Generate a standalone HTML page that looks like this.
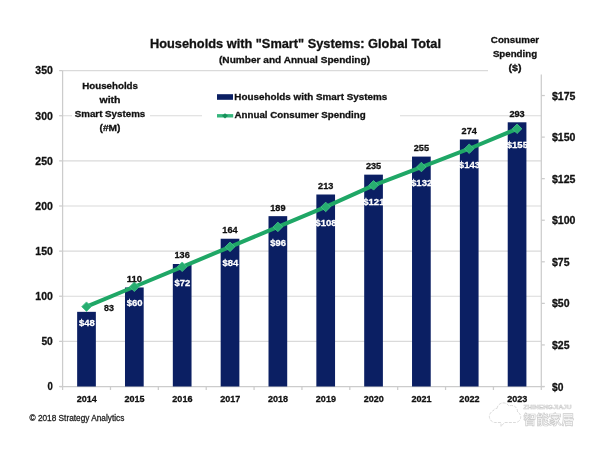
<!DOCTYPE html>
<html><head><meta charset="utf-8"><title>Households with Smart Systems</title>
<style>html,body{margin:0;padding:0;background:#fff}svg{display:block}</style></head>
<body>
<svg width="600" height="451" viewBox="0 0 600 451" font-family="&quot;Liberation Sans&quot;, sans-serif" font-weight="bold" fill="#111">
<rect width="600" height="451" fill="#fff" stroke="none"/>
<line x1="62.6" x2="541.3" y1="341.37" y2="341.37" stroke="#dadada" stroke-width="1.2"/>
<line x1="62.6" x2="541.3" y1="296.24" y2="296.24" stroke="#dadada" stroke-width="1.2"/>
<line x1="62.6" x2="541.3" y1="251.11" y2="251.11" stroke="#dadada" stroke-width="1.2"/>
<line x1="62.6" x2="541.3" y1="205.99" y2="205.99" stroke="#dadada" stroke-width="1.2"/>
<line x1="62.6" x2="541.3" y1="160.86" y2="160.86" stroke="#dadada" stroke-width="1.2"/>
<line x1="62.6" x2="541.3" y1="115.73" y2="115.73" stroke="#dadada" stroke-width="1.2"/>
<line x1="62.6" x2="541.3" y1="70.60" y2="70.60" stroke="#dadada" stroke-width="1.2"/>
<rect x="72" y="78" width="78" height="62" fill="#fff"/>
<rect x="202" y="84" width="198" height="42" fill="#fff"/>
<rect x="488" y="28" width="58" height="46.5" fill="#fff"/>
<line x1="62.6" x2="62.6" y1="70.6" y2="386.5" stroke="#cccccc" stroke-width="1.25"/>
<line x1="541.3" x2="541.3" y1="74.5" y2="386.5" stroke="#cccccc" stroke-width="1.25"/>
<line x1="59.6" x2="544.3" y1="386.5" y2="386.5" stroke="#cccccc" stroke-width="1.25"/>
<line x1="59.1" x2="62.6" y1="386.50" y2="386.50" stroke="#cccccc" stroke-width="1.25"/>
<line x1="59.1" x2="62.6" y1="341.37" y2="341.37" stroke="#cccccc" stroke-width="1.25"/>
<line x1="59.1" x2="62.6" y1="296.24" y2="296.24" stroke="#cccccc" stroke-width="1.25"/>
<line x1="59.1" x2="62.6" y1="251.11" y2="251.11" stroke="#cccccc" stroke-width="1.25"/>
<line x1="59.1" x2="62.6" y1="205.99" y2="205.99" stroke="#cccccc" stroke-width="1.25"/>
<line x1="59.1" x2="62.6" y1="160.86" y2="160.86" stroke="#cccccc" stroke-width="1.25"/>
<line x1="59.1" x2="62.6" y1="115.73" y2="115.73" stroke="#cccccc" stroke-width="1.25"/>
<line x1="59.1" x2="62.6" y1="70.60" y2="70.60" stroke="#cccccc" stroke-width="1.25"/>
<line x1="541.3" x2="544.8" y1="386.50" y2="386.50" stroke="#cccccc" stroke-width="1.25"/>
<line x1="541.3" x2="544.8" y1="344.93" y2="344.93" stroke="#cccccc" stroke-width="1.25"/>
<line x1="541.3" x2="544.8" y1="303.37" y2="303.37" stroke="#cccccc" stroke-width="1.25"/>
<line x1="541.3" x2="544.8" y1="261.80" y2="261.80" stroke="#cccccc" stroke-width="1.25"/>
<line x1="541.3" x2="544.8" y1="220.24" y2="220.24" stroke="#cccccc" stroke-width="1.25"/>
<line x1="541.3" x2="544.8" y1="178.67" y2="178.67" stroke="#cccccc" stroke-width="1.25"/>
<line x1="541.3" x2="544.8" y1="137.11" y2="137.11" stroke="#cccccc" stroke-width="1.25"/>
<line x1="541.3" x2="544.8" y1="95.54" y2="95.54" stroke="#cccccc" stroke-width="1.25"/>
<line x1="62.60" x2="62.60" y1="386.5" y2="390.0" stroke="#cccccc" stroke-width="1.25"/>
<line x1="110.47" x2="110.47" y1="386.5" y2="390.0" stroke="#cccccc" stroke-width="1.25"/>
<line x1="158.34" x2="158.34" y1="386.5" y2="390.0" stroke="#cccccc" stroke-width="1.25"/>
<line x1="206.21" x2="206.21" y1="386.5" y2="390.0" stroke="#cccccc" stroke-width="1.25"/>
<line x1="254.08" x2="254.08" y1="386.5" y2="390.0" stroke="#cccccc" stroke-width="1.25"/>
<line x1="301.95" x2="301.95" y1="386.5" y2="390.0" stroke="#cccccc" stroke-width="1.25"/>
<line x1="349.82" x2="349.82" y1="386.5" y2="390.0" stroke="#cccccc" stroke-width="1.25"/>
<line x1="397.69" x2="397.69" y1="386.5" y2="390.0" stroke="#cccccc" stroke-width="1.25"/>
<line x1="445.56" x2="445.56" y1="386.5" y2="390.0" stroke="#cccccc" stroke-width="1.25"/>
<line x1="493.43" x2="493.43" y1="386.5" y2="390.0" stroke="#cccccc" stroke-width="1.25"/>
<line x1="541.30" x2="541.30" y1="386.5" y2="390.0" stroke="#cccccc" stroke-width="1.25"/>
<rect x="77.15" y="311.84" width="18.7" height="74.66" fill="#0b1f63"/>
<rect x="124.99" y="287.47" width="18.7" height="99.03" fill="#0b1f63"/>
<rect x="172.83" y="264.00" width="18.7" height="122.50" fill="#0b1f63"/>
<rect x="220.67" y="238.73" width="18.7" height="147.77" fill="#0b1f63"/>
<rect x="268.51" y="216.16" width="18.7" height="170.34" fill="#0b1f63"/>
<rect x="316.35" y="194.50" width="18.7" height="192.00" fill="#0b1f63"/>
<rect x="364.19" y="174.65" width="18.7" height="211.85" fill="#0b1f63"/>
<rect x="412.03" y="156.59" width="18.7" height="229.91" fill="#0b1f63"/>
<rect x="459.87" y="139.45" width="18.7" height="247.05" fill="#0b1f63"/>
<rect x="507.71" y="122.30" width="18.7" height="264.20" fill="#0b1f63"/>
<polyline fill="none" stroke="#1fa766" stroke-width="4" stroke-linejoin="round" points="86.50,306.69 134.34,286.74 182.18,266.79 230.02,246.84 277.86,226.89 325.70,206.94 373.54,185.32 421.38,167.03 469.22,148.74 517.06,128.79"/>
<path d="M81.70 306.69 L86.50 301.89 L91.30 306.69 L86.50 311.49Z" fill="#27ad70" stroke="#45c48c" stroke-width="0.8"/>
<path d="M129.54 286.74 L134.34 281.94 L139.14 286.74 L134.34 291.54Z" fill="#27ad70" stroke="#45c48c" stroke-width="0.8"/>
<path d="M177.38 266.79 L182.18 261.99 L186.98 266.79 L182.18 271.59Z" fill="#27ad70" stroke="#45c48c" stroke-width="0.8"/>
<path d="M225.22 246.84 L230.02 242.04 L234.82 246.84 L230.02 251.64Z" fill="#27ad70" stroke="#45c48c" stroke-width="0.8"/>
<path d="M273.06 226.89 L277.86 222.09 L282.66 226.89 L277.86 231.69Z" fill="#27ad70" stroke="#45c48c" stroke-width="0.8"/>
<path d="M320.90 206.94 L325.70 202.14 L330.50 206.94 L325.70 211.74Z" fill="#27ad70" stroke="#45c48c" stroke-width="0.8"/>
<path d="M368.74 185.32 L373.54 180.52 L378.34 185.32 L373.54 190.12Z" fill="#27ad70" stroke="#45c48c" stroke-width="0.8"/>
<path d="M416.58 167.03 L421.38 162.23 L426.18 167.03 L421.38 171.83Z" fill="#27ad70" stroke="#45c48c" stroke-width="0.8"/>
<path d="M464.42 148.74 L469.22 143.94 L474.02 148.74 L469.22 153.54Z" fill="#27ad70" stroke="#45c48c" stroke-width="0.8"/>
<path d="M512.26 128.79 L517.06 123.99 L521.86 128.79 L517.06 133.59Z" fill="#27ad70" stroke="#45c48c" stroke-width="0.8"/>
<text x="109.00" y="311.00" font-size="9.6" text-anchor="middle" textLength="9.9" lengthAdjust="spacingAndGlyphs" stroke="#111" stroke-width="0.3">83</text>
<text x="134.34" y="281.82" font-size="9.6" text-anchor="middle" textLength="15.3" lengthAdjust="spacingAndGlyphs" stroke="#111" stroke-width="0.3">110</text>
<text x="182.18" y="258.35" font-size="9.6" text-anchor="middle" textLength="15.3" lengthAdjust="spacingAndGlyphs" stroke="#111" stroke-width="0.3">136</text>
<text x="230.02" y="233.08" font-size="9.6" text-anchor="middle" textLength="15.3" lengthAdjust="spacingAndGlyphs" stroke="#111" stroke-width="0.3">164</text>
<text x="277.86" y="210.51" font-size="9.6" text-anchor="middle" textLength="15.3" lengthAdjust="spacingAndGlyphs" stroke="#111" stroke-width="0.3">189</text>
<text x="325.70" y="188.85" font-size="9.6" text-anchor="middle" textLength="15.3" lengthAdjust="spacingAndGlyphs" stroke="#111" stroke-width="0.3">213</text>
<text x="373.54" y="169.00" font-size="9.6" text-anchor="middle" textLength="15.3" lengthAdjust="spacingAndGlyphs" stroke="#111" stroke-width="0.3">235</text>
<text x="421.38" y="150.94" font-size="9.6" text-anchor="middle" textLength="15.3" lengthAdjust="spacingAndGlyphs" stroke="#111" stroke-width="0.3">255</text>
<text x="469.22" y="133.80" font-size="9.6" text-anchor="middle" textLength="15.3" lengthAdjust="spacingAndGlyphs" stroke="#111" stroke-width="0.3">274</text>
<text x="517.06" y="116.65" font-size="9.6" text-anchor="middle" textLength="15.3" lengthAdjust="spacingAndGlyphs" stroke="#111" stroke-width="0.3">293</text>
<text x="86.80" y="326.09" font-size="9.8" text-anchor="middle" textLength="15.8" lengthAdjust="spacingAndGlyphs" fill="#fff" stroke="#fff" stroke-width="0.3">$48</text>
<text x="134.64" y="306.14" font-size="9.8" text-anchor="middle" textLength="15.8" lengthAdjust="spacingAndGlyphs" fill="#fff" stroke="#fff" stroke-width="0.3">$60</text>
<text x="182.48" y="286.19" font-size="9.8" text-anchor="middle" textLength="15.8" lengthAdjust="spacingAndGlyphs" fill="#fff" stroke="#fff" stroke-width="0.3">$72</text>
<text x="230.32" y="266.24" font-size="9.8" text-anchor="middle" textLength="15.8" lengthAdjust="spacingAndGlyphs" fill="#fff" stroke="#fff" stroke-width="0.3">$84</text>
<text x="278.16" y="246.29" font-size="9.8" text-anchor="middle" textLength="15.8" lengthAdjust="spacingAndGlyphs" fill="#fff" stroke="#fff" stroke-width="0.3">$96</text>
<text x="326.00" y="226.34" font-size="9.8" text-anchor="middle" textLength="21.3" lengthAdjust="spacingAndGlyphs" fill="#fff" stroke="#fff" stroke-width="0.3">$108</text>
<text x="373.84" y="204.72" font-size="9.8" text-anchor="middle" textLength="21.3" lengthAdjust="spacingAndGlyphs" fill="#fff" stroke="#fff" stroke-width="0.3">$121</text>
<text x="421.68" y="186.43" font-size="9.8" text-anchor="middle" textLength="21.3" lengthAdjust="spacingAndGlyphs" fill="#fff" stroke="#fff" stroke-width="0.3">$132</text>
<text x="469.52" y="168.14" font-size="9.8" text-anchor="middle" textLength="21.3" lengthAdjust="spacingAndGlyphs" fill="#fff" stroke="#fff" stroke-width="0.3">$143</text>
<text x="517.36" y="148.19" font-size="9.8" text-anchor="middle" textLength="21.3" lengthAdjust="spacingAndGlyphs" fill="#fff" stroke="#fff" stroke-width="0.3">$155</text>
<text x="52.80" y="390.30" font-size="11" text-anchor="end" textLength="5.3" lengthAdjust="spacingAndGlyphs" stroke="#111" stroke-width="0.3">0</text>
<text x="52.80" y="345.17" font-size="11" text-anchor="end" textLength="11.4" lengthAdjust="spacingAndGlyphs" stroke="#111" stroke-width="0.3">50</text>
<text x="52.80" y="300.04" font-size="11" text-anchor="end" textLength="17.5" lengthAdjust="spacingAndGlyphs" stroke="#111" stroke-width="0.3">100</text>
<text x="52.80" y="254.91" font-size="11" text-anchor="end" textLength="17.5" lengthAdjust="spacingAndGlyphs" stroke="#111" stroke-width="0.3">150</text>
<text x="52.80" y="209.79" font-size="11" text-anchor="end" textLength="17.5" lengthAdjust="spacingAndGlyphs" stroke="#111" stroke-width="0.3">200</text>
<text x="52.80" y="164.66" font-size="11" text-anchor="end" textLength="17.5" lengthAdjust="spacingAndGlyphs" stroke="#111" stroke-width="0.3">250</text>
<text x="52.80" y="119.53" font-size="11" text-anchor="end" textLength="17.5" lengthAdjust="spacingAndGlyphs" stroke="#111" stroke-width="0.3">300</text>
<text x="52.80" y="74.40" font-size="11" text-anchor="end" textLength="17.5" lengthAdjust="spacingAndGlyphs" stroke="#111" stroke-width="0.3">350</text>
<text x="552.00" y="390.60" font-size="11" text-anchor="start" textLength="11.4" lengthAdjust="spacingAndGlyphs" stroke="#111" stroke-width="0.3">$0</text>
<text x="552.00" y="349.03" font-size="11" text-anchor="start" textLength="17.5" lengthAdjust="spacingAndGlyphs" stroke="#111" stroke-width="0.3">$25</text>
<text x="552.00" y="307.47" font-size="11" text-anchor="start" textLength="17.5" lengthAdjust="spacingAndGlyphs" stroke="#111" stroke-width="0.3">$50</text>
<text x="552.00" y="265.90" font-size="11" text-anchor="start" textLength="17.5" lengthAdjust="spacingAndGlyphs" stroke="#111" stroke-width="0.3">$75</text>
<text x="552.00" y="224.34" font-size="11" text-anchor="start" textLength="23.5" lengthAdjust="spacingAndGlyphs" stroke="#111" stroke-width="0.3">$100</text>
<text x="552.00" y="182.77" font-size="11" text-anchor="start" textLength="23.5" lengthAdjust="spacingAndGlyphs" stroke="#111" stroke-width="0.3">$125</text>
<text x="552.00" y="141.21" font-size="11" text-anchor="start" textLength="23.5" lengthAdjust="spacingAndGlyphs" stroke="#111" stroke-width="0.3">$150</text>
<text x="552.00" y="99.64" font-size="11" text-anchor="start" textLength="23.5" lengthAdjust="spacingAndGlyphs" stroke="#111" stroke-width="0.3">$175</text>
<text x="86.70" y="402.10" font-size="9.8" text-anchor="middle" textLength="20.1" lengthAdjust="spacingAndGlyphs" stroke="#111" stroke-width="0.3">2014</text>
<text x="134.54" y="402.10" font-size="9.8" text-anchor="middle" textLength="20.1" lengthAdjust="spacingAndGlyphs" stroke="#111" stroke-width="0.3">2015</text>
<text x="182.38" y="402.10" font-size="9.8" text-anchor="middle" textLength="20.1" lengthAdjust="spacingAndGlyphs" stroke="#111" stroke-width="0.3">2016</text>
<text x="230.22" y="402.10" font-size="9.8" text-anchor="middle" textLength="20.1" lengthAdjust="spacingAndGlyphs" stroke="#111" stroke-width="0.3">2017</text>
<text x="278.06" y="402.10" font-size="9.8" text-anchor="middle" textLength="20.1" lengthAdjust="spacingAndGlyphs" stroke="#111" stroke-width="0.3">2018</text>
<text x="325.90" y="402.10" font-size="9.8" text-anchor="middle" textLength="20.1" lengthAdjust="spacingAndGlyphs" stroke="#111" stroke-width="0.3">2019</text>
<text x="373.74" y="402.10" font-size="9.8" text-anchor="middle" textLength="20.1" lengthAdjust="spacingAndGlyphs" stroke="#111" stroke-width="0.3">2020</text>
<text x="421.58" y="402.10" font-size="9.8" text-anchor="middle" textLength="20.1" lengthAdjust="spacingAndGlyphs" stroke="#111" stroke-width="0.3">2021</text>
<text x="469.42" y="402.10" font-size="9.8" text-anchor="middle" textLength="20.1" lengthAdjust="spacingAndGlyphs" stroke="#111" stroke-width="0.3">2022</text>
<text x="517.26" y="402.10" font-size="9.8" text-anchor="middle" textLength="20.1" lengthAdjust="spacingAndGlyphs" stroke="#111" stroke-width="0.3">2023</text>
<text x="295.50" y="47.70" font-size="13" text-anchor="middle" textLength="291" lengthAdjust="spacingAndGlyphs" stroke="#111" stroke-width="0.3">Households with "Smart" Systems: Global Total</text>
<text x="294.50" y="63.00" font-size="9.8" text-anchor="middle" textLength="151" lengthAdjust="spacingAndGlyphs" stroke="#111" stroke-width="0.3">(Number and Annual Spending)</text>
<text x="515.00" y="42.80" font-size="9.7" text-anchor="middle" textLength="48.3" lengthAdjust="spacingAndGlyphs" stroke="#111" stroke-width="0.3">Consumer</text>
<text x="515.00" y="56.70" font-size="9.7" text-anchor="middle" textLength="44.2" lengthAdjust="spacingAndGlyphs" stroke="#111" stroke-width="0.3">Spending</text>
<text x="515.00" y="70.60" font-size="9.7" text-anchor="middle" textLength="13" lengthAdjust="spacingAndGlyphs" stroke="#111" stroke-width="0.3">($)</text>
<text x="110.10" y="88.80" font-size="9.7" text-anchor="middle" textLength="55.8" lengthAdjust="spacingAndGlyphs" stroke="#111" stroke-width="0.3">Households</text>
<text x="110.00" y="102.60" font-size="9.7" text-anchor="middle" textLength="21" lengthAdjust="spacingAndGlyphs" stroke="#111" stroke-width="0.3">with</text>
<text x="110.00" y="117.00" font-size="9.7" text-anchor="middle" textLength="70.5" lengthAdjust="spacingAndGlyphs" stroke="#111" stroke-width="0.3">Smart Systems</text>
<text x="110.00" y="131.00" font-size="9.7" text-anchor="middle" textLength="21" lengthAdjust="spacingAndGlyphs" stroke="#111" stroke-width="0.3">(#M)</text>
<rect x="217" y="94.2" width="16" height="5.6" fill="#0b1f63"/>
<line x1="217" x2="233.2" y1="115.8" y2="115.8" stroke="#35b57c" stroke-width="3.4"/>
<path d="M222 115.8 L225 113.2 L228 115.8 L225 118.4Z" fill="#17915a"/>
<text x="234.30" y="100.10" font-size="9.9" text-anchor="start" textLength="153" lengthAdjust="spacingAndGlyphs" stroke="#111" stroke-width="0.3">Households with Smart Systems</text>
<text x="234.50" y="118.40" font-size="9.9" text-anchor="start" textLength="131.2" lengthAdjust="spacingAndGlyphs" stroke="#111" stroke-width="0.3">Annual Consumer Spending</text>
<text x="29.50" y="421.30" font-size="9.3" text-anchor="start" textLength="94.8" lengthAdjust="spacingAndGlyphs" fill="#222" stroke="#222" stroke-width="0.3" font-weight="normal">© 2018 Strategy Analytics</text>
<g fill="#fff" stroke="#cbcbcb" stroke-width="0.7" font-weight="normal">
<path d="M497 408.5 a6.5 6.5 0 0 1 12 -2.5 a6 6 0 0 1 8.5 6 a5.5 5.5 0 0 1 -2 10.5 h-11 l-3.5 4 v-4 h-6 a6 6 0 0 1 -2 -11.5 a4 4 0 0 1 4 -2.5z" stroke-dasharray="3 1.2"/>
<text x="523.5" y="423.6" font-size="12.6" font-family="&quot;Liberation Sans&quot;, &quot;Noto Sans CJK SC&quot;, sans-serif" font-weight="bold" textLength="50.5" lengthAdjust="spacingAndGlyphs">智能家居</text>
<text x="523.5" y="409" font-size="5.4" font-weight="bold" stroke-width="0.45" textLength="48" lengthAdjust="spacingAndGlyphs">ZHINENGJIAJU</text>
</g>
</svg>
</body></html>
